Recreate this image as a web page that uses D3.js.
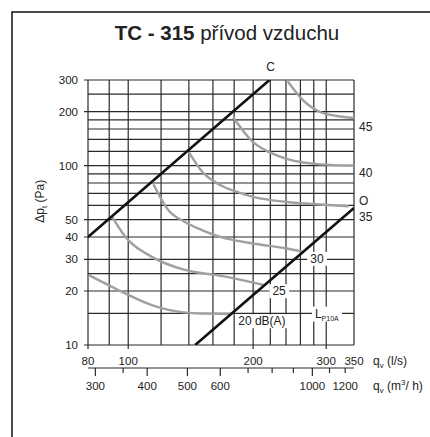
<!DOCTYPE html>
<html>
<head>
<meta charset="utf-8">
<script src="https://cdn.jsdelivr.net/npm/d3@7"></script>
<style>
  body { margin: 0; background: #fff; }
  text { font-family: "Liberation Sans", Arial, sans-serif; fill: #222; }
</style>
</head>
<body>
<div id="chart"></div>
<script>
// axis values
var qGrid = [80, 90, 100, 120, 140, 160, 180, 200, 220, 240, 260, 280, 300, 350];
var qLabels = [80, 100, 200, 300, 350];
var pGrid = [10, 15, 20, 25, 30, 40, 50, 60, 70, 80, 90, 100, 120, 140, 160, 180, 200, 250, 300];
var pLabels = [10, 20, 30, 40, 50, 100, 200, 300];
var m3hTicks = [300, 350, 400, 500, 600, 700, 800, 900, 1000, 1100, 1200];
var m3hLabels = [300, 400, 500, 600, 1000, 1200];

// black lines [q l/s, dp Pa]
var lineC = [[80, 40], [219, 300]];
var lineO = [[145, 10], [350, 58]];

// grey noise curves L_P10A
var curve20 = [[80.4, 24.5], [94.9, 20.2], [114, 16.7], [125, 15.7], [145, 15.0], [176, 14.9]];
var curve25 = [[91.5, 51.8], [98.4, 40.1], [114, 31.0], [137, 26.2], [169, 24.2], [212, 21.6]];
var curve30 = [[115, 78.7], [125, 56.4], [137, 48.5], [151, 43.6], [166, 40.2], [200, 36.8], [241, 34.5], [262, 33.2]];
var curve35 = [[140, 119], [151, 92.1], [167, 77.7], [183, 71.3], [200, 66.9], [241, 62.7], [290, 60.7], [340, 59.4]];
var curve40 = [[179, 186], [200, 135], [220, 118], [241, 109], [264, 104], [290, 101.6], [350, 100.2]];
var curve45 = [[241, 300], [264, 231], [290, 199], [318, 189], [350, 184]];

// label anchors [q, dp]
var rightLabels = [["45", 164], ["40", 91], ["O", 64], ["35", 52]];
var innerLabels = [["30", 285, 30.3], ["25", 231, 20], ["20 dB(A)", 210, 13.6]];

var width = 430, height = 437;

var svg = d3.select("#chart")
  .append("svg")
  .attr("width", width)
  .attr("height", height);

// frame
svg.append("rect")
  .attr("x", 12).attr("y", 12)
  .attr("width", 440).attr("height", 440)
  .attr("fill", "none")
  .attr("stroke", "#111")
  .attr("stroke-width", 1.5);

// title
var title = svg.append("text")
  .attr("x", 227).attr("y", 40)
  .attr("text-anchor", "middle")
  .style("font-size", "20.5px");
title.append("tspan").style("font-weight", "bold").text("TC - 315");
title.append("tspan").text(" přívod vzduchu");

var x = d3.scaleLog().domain([80, 350]).range([88, 354]);
var y = d3.scaleLog().domain([10, 300]).range([345, 80]);

var gridColor = "#2a2a2a";

// grid
svg.append("g").selectAll("line")
  .data(qGrid)
  .enter().append("line")
  .attr("x1", function(d) { return x(d); })
  .attr("x2", function(d) { return x(d); })
  .attr("y1", y(300))
  .attr("y2", function(d) { return qLabels.indexOf(d) >= 0 && d != 350 ? y(10) + 4 : y(10); })
  .attr("stroke", gridColor)
  .attr("stroke-width", 1.2);

svg.append("g").selectAll("line")
  .data(pGrid)
  .enter().append("line")
  .attr("x1", function(d) { return pLabels.indexOf(d) >= 0 ? x(80) - 4 : x(80); })
  .attr("x2", x(350))
  .attr("y1", function(d) { return y(d); })
  .attr("y2", function(d) { return y(d); })
  .attr("stroke", gridColor)
  .attr("stroke-width", 1.2);

// y labels
svg.append("g").selectAll("text")
  .data(pLabels)
  .enter().append("text")
  .attr("x", x(80) - 10)
  .attr("y", function(d) { return y(d); })
  .attr("dy", "0.35em")
  .attr("text-anchor", "end")
  .style("font-size", "11.5px")
  .text(function(d) { return d; });

// y title
var yTitle = svg.append("text")
  .attr("transform", "translate(44," + ((y(40) + y(100)) / 2) + ") rotate(-90)")
  .attr("text-anchor", "middle")
  .style("font-size", "12px");
yTitle.append("tspan").text("Δp");
yTitle.append("tspan").attr("dy", 3).style("font-size", "8px").text("t");
yTitle.append("tspan").attr("dy", -3).text(" (Pa)");

// x labels l/s
svg.append("g").selectAll("text")
  .data(qLabels)
  .enter().append("text")
  .attr("x", function(d) { return x(d); })
  .attr("y", y(10) + 16)
  .attr("dy", "0.35em")
  .attr("text-anchor", "middle")
  .style("font-size", "11.5px")
  .text(function(d) { return d; });

var qTitle = svg.append("text")
  .attr("x", 373).attr("y", y(10) + 16)
  .attr("dy", "0.35em")
  .style("font-size", "12px");
qTitle.append("tspan").text("q");
qTitle.append("tspan").attr("dy", 3).style("font-size", "8px").text("v");
qTitle.append("tspan").attr("dy", -3).text(" (l/s)");

// second axis m3/h
var ax2 = y(10) + 23;
svg.append("line")
  .attr("x1", x(80)).attr("x2", x(350))
  .attr("y1", ax2).attr("y2", ax2)
  .attr("stroke", gridColor)
  .attr("stroke-width", 1.2);

svg.append("g").selectAll("line")
  .data(m3hTicks)
  .enter().append("line")
  .attr("x1", function(d) { return x(d / 3.6); })
  .attr("x2", function(d) { return x(d / 3.6); })
  .attr("y1", ax2)
  .attr("y2", function(d) { return m3hLabels.indexOf(d) >= 0 && d != 1200 ? ax2 + 8 : ax2 + 5; })
  .attr("stroke", gridColor)
  .attr("stroke-width", 1.2);

svg.append("g").selectAll("text")
  .data(m3hLabels)
  .enter().append("text")
  .attr("x", function(d) { return x(d / 3.6); })
  .attr("y", ax2 + 18)
  .attr("dy", "0.35em")
  .attr("text-anchor", "middle")
  .style("font-size", "11.5px")
  .text(function(d) { return d; });

var mTitle = svg.append("text")
  .attr("x", 373).attr("y", ax2 + 18)
  .attr("dy", "0.35em")
  .style("font-size", "12px");
mTitle.append("tspan").text("q");
mTitle.append("tspan").attr("dy", 3).style("font-size", "8px").text("v");
mTitle.append("tspan").attr("dy", -3).text(" (m");
mTitle.append("tspan").attr("dy", -5).style("font-size", "8px").text("3");
mTitle.append("tspan").attr("dy", 5).text("/ h)");

// clip to plot
svg.append("defs").append("clipPath").attr("id", "plot")
  .append("rect")
  .attr("x", x(80)).attr("y", y(300))
  .attr("width", x(350) - x(80)).attr("height", y(10) - y(300));

var line = d3.line()
  .x(function(d) { return x(d[0]); })
  .y(function(d) { return y(d[1]); })
  .curve(d3.curveMonotoneX);

var plot = svg.append("g").attr("clip-path", "url(#plot)");

[curve20, curve25, curve30, curve35, curve40, curve45].forEach(function(c) {
  plot.append("path")
    .datum(c)
    .attr("d", line)
    .attr("fill", "none")
    .attr("stroke", "#a0a0a0")
    .attr("stroke-width", 2.4);
});

[lineC, lineO].forEach(function(c) {
  plot.append("path")
    .datum(c)
    .attr("d", d3.line().x(function(d) { return x(d[0]); }).y(function(d) { return y(d[1]); }))
    .attr("fill", "none")
    .attr("stroke", "#111")
    .attr("stroke-width", 2.6);
});

// C label
svg.append("text")
  .attr("x", x(lineC[1][0]) + 1)
  .attr("y", y(300) - 13)
  .attr("dy", "0.35em")
  .attr("text-anchor", "middle")
  .style("font-size", "12px")
  .text("C");

// right side labels
svg.append("g").selectAll("text")
  .data(rightLabels)
  .enter().append("text")
  .attr("x", x(350) + 5)
  .attr("y", function(d) { return y(d[1]); })
  .attr("dy", "0.35em")
  .style("font-size", "12px")
  .text(function(d) { return d[0]; });

// labels with white box inside plot
function boxedLabel(t) {
  var b = t.node().getBBox();
  svg.insert("rect", function() { return t.node(); })
    .attr("x", b.x - 3).attr("y", b.y)
    .attr("width", b.width + 6).attr("height", b.height)
    .attr("fill", "#fff");
}

innerLabels.forEach(function(d) {
  var t = svg.append("text")
    .attr("x", x(d[1]))
    .attr("y", y(d[2]))
    .attr("dy", "0.35em")
    .attr("text-anchor", "middle")
    .style("font-size", "12px")
    .text(d[0]);
  boxedLabel(t);
});

var lp = svg.append("text")
  .attr("x", x(301))
  .attr("y", y(15))
  .attr("dy", "0.35em")
  .attr("text-anchor", "middle")
  .style("font-size", "12px");
lp.append("tspan").text("L");
lp.append("tspan").attr("dy", 3).style("font-size", "7px").text("P10A");
boxedLabel(lp);
</script>
</body>
</html>
